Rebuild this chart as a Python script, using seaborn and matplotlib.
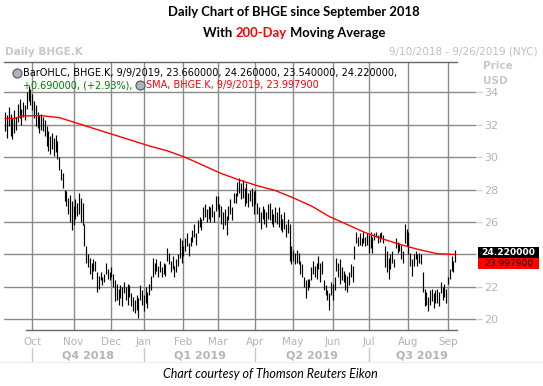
import matplotlib
matplotlib.use("Agg")
import matplotlib.pyplot as plt
from matplotlib.patches import Rectangle
from matplotlib.lines import Line2D
from matplotlib.transforms import blended_transform_factory
import numpy as np
import seaborn as sns

# daily bars, 9/10/2018 .. 9/9/2019 (trading-day index)
highs = [32.8, 32.6, 33.1, 32.7, 32.4, 32.9, 32.5, 33.3, 33.6, 33.0,
         33.4, 33.2, 34.0, 34.4, 34.2, 33.9, 33.5, 33.2, 32.8, 32.6,
         32.7, 32.5, 32.3, 31.9, 31.6, 31.3, 31.5, 31.2, 31.4, 31.0,
         30.0, 29.3, 29.0, 28.0, 27.9, 27.5, 27.7, 27.3, 27.0, 27.4,
         27.2, 27.8, 27.5, 27.2, 25.9, 24.5, 24.0, 23.8, 23.5, 23.7,
         23.6, 22.9, 22.7, 22.9, 22.6, 22.8, 23.5, 23.1, 22.9, 23.2,
         22.8, 22.4, 22.2, 21.9, 22.1, 22.0, 22.3, 22.0, 22.2, 22.1,
         21.6, 21.4, 21.2, 21.5, 21.3, 22.1, 21.8, 21.5, 22.0, 21.7,
         22.2, 22.7, 23.8, 23.5, 23.7, 23.3, 23.6, 23.2, 23.5, 23.4,
         24.4, 24.1, 23.6, 23.9, 23.3, 23.7, 24.0, 25.0, 24.9, 24.5,
         25.0, 25.3, 24.7, 25.1, 25.5, 25.9, 25.3, 26.1, 26.3, 26.2,
         26.9, 27.1, 26.8, 27.0, 26.9, 27.1, 26.7, 27.6, 27.6, 27.1,
         27.0, 26.6, 26.8, 26.4, 27.0, 27.4, 26.9, 27.8, 27.8, 28.5,
         28.7, 28.4, 28.6, 28.1, 28.4, 27.8, 28.0, 28.1, 27.9, 28.0,
         27.2, 26.9, 26.6, 27.0, 26.8, 26.6, 27.1, 27.2, 26.8, 26.5,
         26.9, 26.6, 26.9, 26.5, 26.2, 26.6, 25.9, 26.2, 25.9, 24.5,
         24.3, 24.1, 24.3, 24.1, 23.6, 23.4, 22.6, 22.4, 22.5, 22.5,
         23.2, 23.6, 23.3, 23.5, 23.9, 23.5, 23.6, 22.4, 22.1, 21.8,
         21.6, 22.3, 22.2, 22.6, 23.8, 23.5, 23.7, 23.2, 23.0, 22.8,
         22.7, 22.9, 23.4, 23.3, 24.5, 25.4, 25.1, 25.3, 25.0, 25.4,
         25.1, 25.3, 25.2, 25.4, 25.1, 25.3, 25.4, 25.2, 25.3, 25.4,
         25.2, 24.5, 24.2, 23.8, 24.0, 24.2, 23.7, 25.0, 24.8, 24.7,
         24.6, 24.2, 25.9, 25.6, 25.4, 24.1, 23.7, 24.0, 24.2, 24.0,
         24.1, 24.0, 22.9, 21.9, 21.7, 21.4, 21.8, 21.9, 21.6, 21.8,
         21.9, 21.7, 22.3, 22.0, 22.2, 21.9, 22.6, 23.1, 23.9, 23.6, 24.26]
lows = [31.6, 31.2, 31.9, 31.3, 31.1, 31.5, 31.7, 32.2, 32.4, 32.0,
        32.5, 32.3, 33.0, 33.5, 33.2, 32.9, 32.4, 31.9, 31.8, 31.5,
        31.7, 31.6, 31.3, 30.7, 30.4, 30.2, 30.5, 30.1, 30.3, 29.9,
        29.2, 28.6, 28.1, 27.3, 27.0, 26.5, 26.0, 25.5, 25.8, 26.2,
        26.4, 26.5, 26.0, 25.8, 24.5, 23.5, 23.2, 22.8, 22.5, 23.0,
        23.0, 21.7, 21.9, 22.4, 22.1, 22.3, 22.8, 22.5, 22.4, 22.6,
        22.0, 21.1, 21.2, 20.9, 21.3, 20.8, 21.6, 21.2, 20.9, 21.4,
        20.8, 20.5, 20.4, 20.6, 20.1, 21.2, 20.9, 20.5, 21.0, 20.7,
        21.5, 21.8, 22.6, 22.8, 23.0, 22.6, 22.9, 22.6, 22.8, 22.7,
        23.6, 23.4, 22.9, 23.1, 22.6, 22.9, 23.3, 23.8, 23.5, 23.9,
        24.2, 24.5, 23.9, 24.5, 24.8, 25.1, 24.6, 25.3, 25.7, 25.5,
        26.1, 26.3, 26.0, 26.2, 26.0, 26.3, 26.0, 26.7, 26.8, 26.3,
        25.9, 25.6, 25.8, 25.2, 26.1, 26.5, 26.1, 27.2, 27.2, 27.6,
        27.8, 27.4, 27.5, 27.0, 27.2, 26.9, 27.3, 27.0, 26.5, 27.1,
        26.5, 26.0, 25.6, 26.2, 25.9, 25.7, 26.2, 26.1, 25.9, 25.7,
        26.0, 25.9, 25.7, 25.5, 25.4, 25.6, 25.1, 25.3, 23.6, 23.4,
        23.6, 23.4, 23.5, 23.4, 22.8, 22.6, 22.0, 21.3, 21.8, 22.0,
        22.4, 22.8, 22.6, 22.5, 23.1, 22.3, 22.8, 21.8, 21.5, 21.2,
        20.6, 21.5, 21.2, 21.8, 23.0, 22.6, 22.2, 22.4, 22.3, 21.8,
        21.7, 22.1, 22.6, 22.3, 23.7, 24.7, 24.5, 24.6, 24.5, 24.7,
        24.5, 24.6, 24.1, 24.4, 24.1, 24.9, 25.1, 24.7, 24.8, 25.0,
        24.7, 23.2, 22.9, 22.5, 23.1, 23.5, 23.2, 24.4, 24.1, 24.2,
        23.7, 23.5, 24.7, 24.5, 24.0, 23.3, 22.7, 23.3, 23.7, 23.3,
        23.5, 23.4, 21.7, 20.8, 20.9, 20.5, 20.9, 21.1, 20.7, 21.0,
        21.0, 20.8, 21.6, 21.2, 21.4, 21.0, 22.2, 22.5, 23.0, 22.9, 23.54]

# 200-day SMA read at a coarser step
sma_day = [0, 5, 10, 20, 30, 40, 50, 60, 70, 80, 90, 100, 110, 120, 130,
           140, 150, 160, 170, 180, 190, 200, 210, 220, 230, 240, 250]
sma_val = [32.4, 32.4, 32.55, 32.57, 32.45, 32.1, 31.75, 31.4, 31.05, 30.7,
           30.4, 30.0, 29.5, 29.0, 28.6, 28.25, 27.95, 27.5, 27.0, 26.35,
           25.85, 25.35, 24.95, 24.6, 24.3, 24.05, 24.0]

month_day = [15, 38, 59, 77, 99, 118, 139, 160, 182, 202, 224, 246]
month_lab = ["Oct", "Nov", "Dec", "Jan", "Feb", "Mar", "Apr", "May", "Jun", "Jul", "Aug", "Sep"]
quarter_day = [15, 77, 139, 202]
quarter_lab = ["Q4 2018", "Q1 2019", "Q2 2019", "Q3 2019"]
price_ticks = [20, 22, 24, 26, 28, 30, 32, 34]
last_close = 24.22
last_sma = 23.9979

sns.set_style("white")
plt.rcParams["font.family"] = ["DejaVu Sans"]

W, H = 543, 386
fig = plt.figure(figsize=(W / 100, H / 100), dpi=100)


def fx(x):
    return x / W


def fy(y):
    return 1 - y / H


x0, x1 = -0.67, 261.6
ax = fig.add_axes([fx(4), fy(330), fx(476) - fx(4), fy(61.5) - fy(330)])
ax.set_xlim(x0, x1)
ax.set_ylim(19.34, 35.91)

n = min(len(highs), len(lows))
days = np.arange(n)
ax.vlines(days, lows[:n], highs[:n], color="black", lw=0.85, zorder=3)
sns.lineplot(x=sma_day, y=sma_val, color="red", lw=1.0, ax=ax, zorder=4)

grid_c = "#8a8a8a"
ax.set_xticks(month_day)
ax.set_xticklabels(month_lab)
ax.set_yticks(price_ticks)
# the 24 label sits under the last-value tags, as in the source chart
ax.set_yticklabels(["" if v == 24 else str(v) for v in price_ticks])
ax.yaxis.tick_right()
ax.grid(True, color=grid_c, lw=1.0)
ax.tick_params(axis="x", length=0, pad=5, labelsize=7.5, labelcolor="#b4b4b4")
ax.tick_params(axis="y", length=4, width=1, color="#d0d0d0", pad=2,
               labelsize=8, labelcolor="#b4b4b4")
for s in ["left", "right"]:
    ax.spines[s].set_visible(False)
for s in ["top", "bottom"]:
    ax.spines[s].set_color("#666666")
    ax.spines[s].set_linewidth(1.0)
ax.spines["bottom"].set_bounds(11.6, 251)
ax.spines["top"].set_bounds(x0, 251)

# quarter labels and separators
tr = blended_transform_factory(ax.transData, fig.transFigure)
qb = quarter_day + [x1]
for i, lab in enumerate(quarter_lab):
    ax.text((qb[i] + qb[i + 1]) / 2, fy(355), lab, transform=tr, ha="center", va="center",
            fontsize=8, fontweight="bold", color="#b4b4b4")
for d in quarter_day:
    ax.add_line(Line2D([d, d], [fy(348), fy(362)], transform=tr, color="#c8c8c8",
                       lw=1.0, clip_on=False))
fig.add_artist(Line2D([0, 1], [fy(361.6), fy(361.6)], color="#eeeeee", lw=0.8))

# header texts
r = fig.canvas.get_renderer()


def chain(x, y, parts, center=False, **kw):
    widths = []
    for s, c in parts:
        t = fig.text(0, 0, s, **kw)
        widths.append(t.get_window_extent(renderer=r).width)
        t.remove()
    if center:
        x = x - sum(widths) / 2
    for (s, c), w in zip(parts, widths):
        fig.text(fx(x), fy(y), s, color=c, va="center", ha="left", **kw)
        x += w
    return x


tfont = dict(fontsize=9.4, fontweight="bold", family="Lato")
fig.text(fx(294), fy(12), "Daily Chart of BHGE since September 2018", ha="center", va="center",
         color="black", **tfont)
chain(294, 33, [("With ", "black"), ("200-Day", "#ff0000"), (" Moving Average", "black")],
      center=True, **tfont)

fig.text(fx(5), fy(52), "Daily BHGE.K", ha="left", va="center", fontsize=7.5,
         fontweight="bold", color="#c8c8c8")
fig.text(fx(538), fy(52), "9/10/2018 - 9/26/2019 (NYC)", ha="right", va="center",
         fontsize=7.5, color="#c0c0c0")
fig.text(fx(483), fy(66), "Price", ha="left", va="center", fontsize=7.5,
         fontweight="bold", color="#c8c8c8")
fig.text(fx(483), fy(81), "USD", ha="left", va="center", fontsize=7.5,
         fontweight="bold", color="#c8c8c8")


# legend lines with clock icons
def icon(x, y):
    fig.add_artist(Line2D([fx(x)], [fy(y)], marker="o", markersize=6.5,
                          markerfacecolor="#a9b4c2", markeredgecolor="#555555", mew=0.8))


lfont = dict(fontsize=7.0)
icon(17, 73)
fig.text(fx(23), fy(73),
         "BarOHLC, BHGE.K, 9/9/2019, 23.660000, 24.260000, 23.540000, %.6f," % last_close,
         ha="left", va="center", color="black", **lfont)
xe = chain(23, 85, [("+0.690000, (+2.93%),", "#008000")], **lfont)
icon(xe + 7, 85)
fig.text(fx(xe + 13), fy(85), "SMA, BHGE.K, 9/9/2019, %.6f" % last_sma, ha="left",
         va="center", color="#ff0000", **lfont)

# last-value tags on the price axis
fig.add_artist(Rectangle((fx(478), fy(257.5)), 61 / W, 10.5 / H, transform=fig.transFigure,
                         facecolor="black", edgecolor="none"))
fig.add_artist(Rectangle((fx(478), fy(268.5)), 61 / W, 11 / H, transform=fig.transFigure,
                         facecolor="#ff0000", edgecolor="none"))
fig.text(fx(508.5), fy(252.2), "%.6f" % last_close, ha="center", va="center", fontsize=6.6,
         fontweight="bold", color="white")
fig.text(fx(508.5), fy(263.3), "%.6f" % last_sma, ha="center", va="center", fontsize=6.6,
         color="black")

fig.text(fx(270), fy(374.5), "Chart courtesy of Thomson Reuters Eikon", ha="center",
         va="center", fontsize=9, style="italic", family="Lato", color="black")

fig.savefig("out.png", dpi=100)
